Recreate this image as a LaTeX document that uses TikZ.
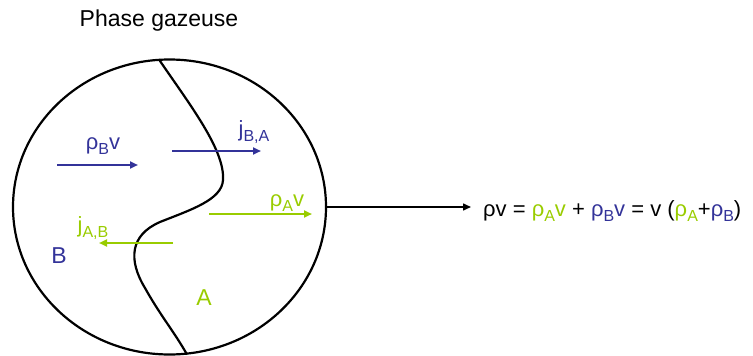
\documentclass[tikz,border=0pt]{standalone}
\usepackage{fontspec}
\setmainfont{Liberation Sans}
\usetikzlibrary{arrows.meta}
\definecolor{cblue}{HTML}{333399}
\definecolor{cgreen}{HTML}{99CC00}
\newcommand{\sbs}[1]{\raisebox{-0.4ex}{\fontsize{16}{16}\selectfont #1}}
\begin{document}
\begin{tikzpicture}[x=1pt,y=-1pt,
  lbl/.style={inner sep=0pt, font=\fontsize{22}{24}\selectfont},
  flow/.style={line width=2pt, -{Triangle[length=8pt,width=7pt]}},
  bl/.style={line width=2.2pt}]
\useasboundingbox (0,0) rectangle (753,356);
\node[lbl,font=\fontsize{23}{26}\selectfont] (title) at (159,21) {Phase gazeuse};
\draw[bl] (169.5,207) ellipse [x radius=156.5, y radius=147.5];
\coordinate (eR) at (326,207);
\coordinate (eT) at (471,207);
\draw[bl] (159,59.5) .. controls (190,105) and (225,150) .. (223,180)
  .. controls (222,200) and (190,210) .. (160,222)
  .. controls (130,235) and (128,260) .. (145,288)
  .. controls (160,315) and (175,333) .. (187,354.5);
% arrows
\coordinate (b1s) at (57,165); \coordinate (b1e) at (138,165);
\draw[flow,cblue] (b1s) -- (b1e);
\node[lbl,text=cblue] (rbv) at (103,146) {ρ\sbs{B}v};
\coordinate (b2s) at (172,151); \coordinate (b2e) at (261,151);
\draw[flow,cblue] (b2s) -- (b2e);
\node[lbl,text=cblue] (jba) at (254,132) {j\sbs{B,A}};
\coordinate (a1s) at (209,214); \coordinate (a1e) at (312,214);
\draw[flow,cgreen] (a1s) -- (a1e);
\node[lbl,text=cgreen] (rav) at (287,203) {ρ\sbs{A}v};
\coordinate (a2s) at (173,243); \coordinate (a2e) at (99,243);
\draw[flow,cgreen] (a2s) -- (a2e);
\node[lbl,text=cgreen] (jab) at (93,228) {j\sbs{A,B}};
\node[lbl,text=cblue,font=\fontsize{23}{24}\selectfont] (B) at (59,256) {B};
\node[lbl,text=cgreen,font=\fontsize{23}{24}\selectfont] (A) at (204,298) {A};
\node[lbl,anchor=west] (eq) at (483,211) {ρv = \textcolor{cgreen}{ρ\sbs{A}v} + \textcolor{cblue}{ρ\sbs{B}v} = v (\textcolor{cgreen}{ρ\sbs{A}}+\textcolor{cblue}{ρ\sbs{B}})};
\draw[line width=1.5pt,-{Triangle[length=8pt,width=7pt]}] (eR) -- (eT);
\end{tikzpicture}
\end{document}
